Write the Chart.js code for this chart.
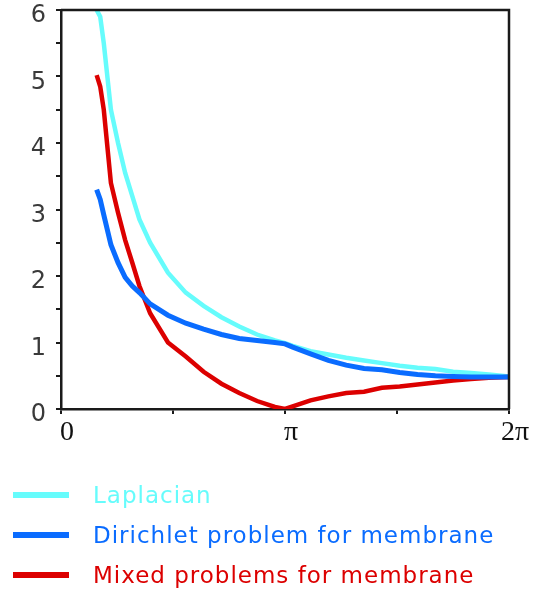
<!DOCTYPE html>
<html>
<head>
<meta charset="utf-8">
<script src="https://cdn.jsdelivr.net/npm/chart.js@4.4.1/dist/chart.umd.min.js"></script>
<style>
  body { margin: 0; background: #fff; }
  #wrap { position: relative; width: 544px; height: 592px; }
  #legend { position: absolute; left: 13px; top: 475px; font-family: "DejaVu Sans", sans-serif; font-size: 23px; letter-spacing: 1px; }
  .item { display: flex; align-items: center; height: 40px; white-space: nowrap; }
  .swatch { width: 56px; height: 6px; margin-right: 24px; }
</style>
</head>
<body>
<div id="wrap">
  <canvas id="chart" width="544" height="592"></canvas>
  <div id="legend"></div>
</div>
<script>
const xValues = [0.5, 0.55, 0.6, 0.7, 0.8, 0.9, 1.0, 1.1, 1.25, 1.5, 1.75, 2.0, 2.25, 2.5, 2.75, 3.0, Math.PI,
  3.25, 3.5, 3.75, 4.0, 4.25, 4.5, 4.75, 5.0, 5.25, 5.5, 5.75, 6.0, 2 * Math.PI];

const laplacian = [6.0, 5.9, 5.5, 4.5, 4.0, 3.55, 3.2, 2.85, 2.5, 2.05, 1.75, 1.55, 1.38, 1.24, 1.12, 1.03, 0.99,
  0.95, 0.87, 0.82, 0.77, 0.73, 0.69, 0.65, 0.62, 0.6, 0.56, 0.54, 0.52, 0.49];
const dirichlet = [3.3, 3.15, 2.92, 2.47, 2.2, 1.98, 1.85, 1.75, 1.58, 1.41, 1.29, 1.2, 1.12, 1.06, 1.03, 1.0, 0.98,
  0.93, 0.83, 0.73, 0.66, 0.61, 0.59, 0.55, 0.52, 0.5, 0.49, 0.48, 0.48, 0.48];
const mixed = [5.02, 4.85, 4.5, 3.4, 2.95, 2.54, 2.2, 1.85, 1.44, 1.0, 0.79, 0.56, 0.38, 0.24, 0.12, 0.03, 0.0,
  0.04, 0.13, 0.19, 0.24, 0.26, 0.32, 0.34, 0.37, 0.4, 0.43, 0.45, 0.47, 0.48];

const xTickValues = [0, Math.PI / 2, Math.PI, 3 * Math.PI / 2, 2 * Math.PI];
const xTickLabels = ['0', '', 'π', '', '2π'];

const seriesNames = ['Laplacian', 'Dirichlet problem for membrane', 'Mixed problems for membrane'];
const seriesColors = ['#66fcfc', '#0a6cff', '#dc0000'];
const seriesData = [laplacian, dirichlet, mixed];
const drawOrder = [3, 1, 2]; // lower = on top

const frame = {
  id: 'frame',
  afterDraw(chart) {
    const a = chart.chartArea, c = chart.ctx;
    c.save();
    c.strokeStyle = '#1a1a1a';
    c.lineWidth = 2.5;
    c.beginPath();
    c.moveTo(a.left, a.top);
    c.lineTo(a.right, a.top);
    c.lineTo(a.right, a.bottom);
    c.stroke();
    c.restore();
  }
};

const ctx = document.getElementById('chart').getContext('2d');
new Chart(ctx, {
  type: 'scatter',
  data: {
    datasets: seriesNames.map((name, k) => ({
      label: name,
      data: xValues.map((x, i) => ({ x: x, y: seriesData[k][i] })),
      showLine: true,
      borderColor: seriesColors[k],
      borderWidth: k === 1 ? 5 : 4.5,
      pointRadius: 0,
      tension: 0,
      order: drawOrder[k]
    }))
  },
  options: {
    responsive: false,
    animation: false,
    events: [],
    layout: { padding: { top: 10, right: 35, bottom: 143, left: 0 } },
    plugins: { legend: { display: false }, tooltip: { enabled: false } },
    scales: {
      x: {
        type: 'linear',
        min: 0,
        max: 2 * Math.PI,
        afterBuildTicks: s => { s.ticks = xTickValues.map(v => ({ value: v })); },
        afterFit: s => { s.height = 40; s.paddingLeft = 0; s.paddingRight = 0; },
        border: { color: '#1a1a1a', width: 2.5 },
        grid: { drawOnChartArea: false, tickLength: 5, color: '#1a1a1a', lineWidth: 2 },
        ticks: {
          autoSkip: false,
          maxRotation: 0,
          padding: 2,
          labelOffset: 6,
          color: '#111',
          font: { family: 'Liberation Serif', size: 28 },
          callback: (v, i) => xTickLabels[i]
        }
      },
      y: {
        min: 0,
        max: 6,
        afterFit: s => { s.width = 61; s.paddingTop = 0; s.paddingBottom = 0; },
        border: { color: '#1a1a1a', width: 2.5 },
        grid: { drawOnChartArea: false, tickLength: 5, color: '#1a1a1a', lineWidth: 2 },
        ticks: {
          stepSize: 0.5,
          padding: 10,
          labelOffset: 6,
          color: '#3a3a3a',
          font: { family: 'DejaVu Sans', size: 24 },
          callback: v => Number.isInteger(v) ? String(v) : ''
        }
      }
    }
  },
  plugins: [frame]
});

const legend = document.getElementById('legend');
seriesNames.forEach((name, k) => {
  const row = document.createElement('div');
  row.className = 'item';
  row.innerHTML = '<span class="swatch" style="background:' + seriesColors[k] + '"></span>' +
    '<span style="color:' + seriesColors[k] + '">' + name + '</span>';
  legend.appendChild(row);
});
</script>
</body>
</html>
